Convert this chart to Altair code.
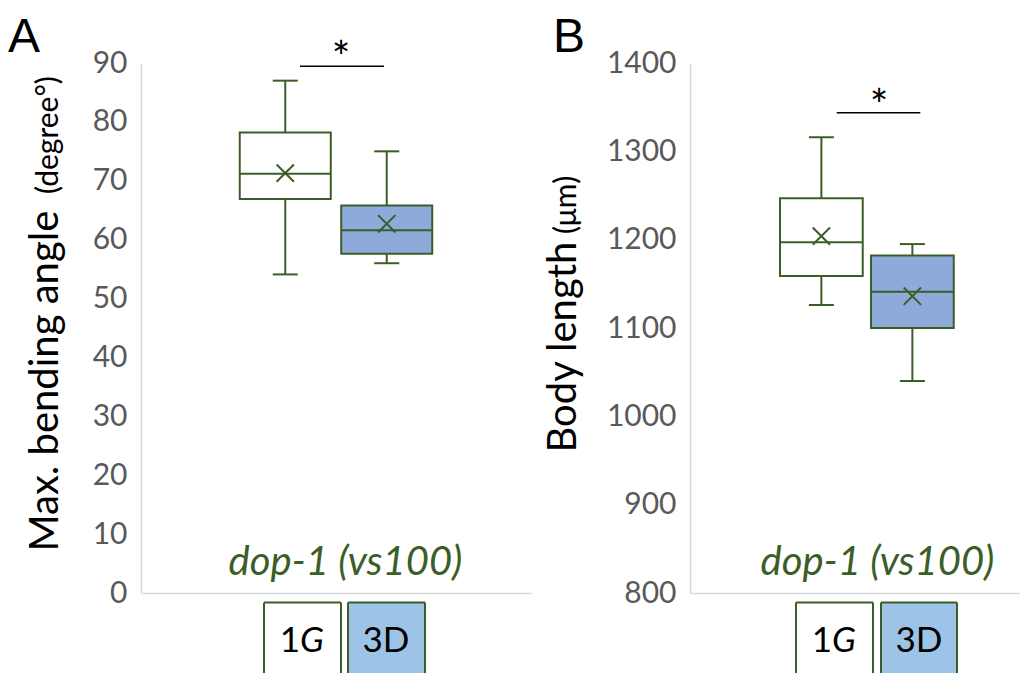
import altair as alt
import pandas as pd

# ---- data ----
groups = ["1G", "3D"]

# Panel A: Max. bending angle (degree)
angle_low = [54.1, 56.0]
angle_q1 = [66.9, 57.6]
angle_median = [71.2, 61.6]
angle_q3 = [78.2, 65.8]
angle_high = [87.0, 75.0]
angle_mean = [71.3, 62.7]
angle_ticks = [0, 10, 20, 30, 40, 50, 60, 70, 80, 90]

# Panel B: Body length (um)
length_low = [1126, 1040]
length_q1 = [1159, 1100]
length_median = [1197, 1141]
length_q3 = [1247, 1182]
length_high = [1316, 1195]
length_mean = [1204, 1136]
length_ticks = [800, 900, 1000, 1100, 1200, 1300, 1400]

GREEN = "#3b5e29"
BOX_FILL = ["#ffffff", "#8eaadb"]
LEG_FILL = ["#ffffff", "#9dc3e6"]
FONT = "Lato"


def frame(low, q1, med, q3, high, mean):
    return pd.DataFrame({"group": groups, "low": low, "q1": q1, "median": med,
                         "q3": q3, "high": high, "mean": mean})


one = pd.DataFrame({"k": [0]})


def txt(text, x, y, size, color="black", angle=0, align="center", italic=False,
        baseline="alphabetic", font=FONT):
    kw = dict(text=text, fontSize=size, color=color, align=align, baseline=baseline, font=font)
    if angle:
        kw["angle"] = angle
    if italic:
        kw["fontStyle"] = "italic"
    return alt.Chart(one).mark_text(**kw).encode(x=alt.value(x), y=alt.value(y))


def hrule(x1, x2, y, color="black", w=1.5):
    return alt.Chart(one).mark_rule(color=color, strokeWidth=w).encode(
        x=alt.value(x1), x2=alt.value(x2), y=alt.value(y))


def vrule(x, y1, y2, color=GREEN, w=2):
    return alt.Chart(one).mark_rule(color=color, strokeWidth=w).encode(
        x=alt.value(x), y=alt.value(y1), y2=alt.value(y2))


def legend_box(x1, x2, top, bottom, fill):
    r = alt.Chart(one).mark_rect(fill=fill).encode(
        x=alt.value(x1), x2=alt.value(x2), y=alt.value(top), y2=alt.value(bottom))
    return [r, hrule(x1, x2, top, GREEN, 2), vrule(x1, top, bottom), vrule(x2, top, bottom)]


def panel(df, ydom, yticks, width, pin, pout, align, cap, ann):
    xenc = alt.X("group:N", scale=alt.Scale(domain=groups, paddingInner=pin, paddingOuter=pout, align=align),
                 axis=alt.Axis(labels=False, ticks=False, title=None, domainColor="#d9d9d9", domainWidth=1.5))
    yscale = alt.Scale(domain=ydom, nice=False, zero=False)
    yaxis = alt.Axis(values=yticks, title=None, grid=False, ticks=False, labelFontSize=30, format="d",
                     labelColor="#595959", labelPadding=14, labelFont=FONT,
                     domainColor="#d9d9d9", domainWidth=1.5)
    base = alt.Chart(df)
    whisk_lo = base.mark_rule(color=GREEN, strokeWidth=2).encode(
        x=xenc, y=alt.Y("low:Q", scale=yscale, axis=yaxis), y2="q1:Q")
    whisk_hi = base.mark_rule(color=GREEN, strokeWidth=2).encode(x=xenc, y=alt.Y("q3:Q"), y2="high:Q")
    cap_lo = base.mark_tick(color=GREEN, size=cap, thickness=2, opacity=1).encode(x=xenc, y="low:Q")
    cap_hi = base.mark_tick(color=GREEN, size=cap, thickness=2, opacity=1).encode(x=xenc, y="high:Q")
    box = base.mark_bar(stroke=GREEN, strokeWidth=2, opacity=1).encode(
        x=xenc, y="q1:Q", y2="q3:Q",
        fill=alt.Fill("group:N", scale=alt.Scale(domain=groups, range=BOX_FILL), legend=None))
    med = base.mark_bar(stroke=GREEN, strokeWidth=2, fill=GREEN).encode(x=xenc, y="median:Q", y2="median:Q")
    mean = base.mark_point(shape="M-1,-1L1,1M-1,1L1,-1", size=300, filled=False, stroke=GREEN,
                           strokeWidth=2, opacity=1).encode(x=xenc, y="mean:Q")

    layers = [whisk_lo, whisk_hi, cap_lo, cap_hi, box, med, mean]
    # annotations
    layers.append(txt(ann["letter"], ann["letter_x"], -11.5, 48, align="left", font="Liberation Sans"))
    layers.append(txt(ann["title"], ann["title_x"], ann["title_y"], 40, angle=270, align="left"))
    layers.append(txt(ann["paren"], ann["title_x"], ann["paren_y"], 30, angle=270, align="left"))
    layers.append(hrule(ann["sig_x1"], ann["sig_x2"], ann["sig_y"]))
    layers.append(txt("*", ann["star_x"], ann["star_y"], 44))
    layers.append(txt("dop-1 (vs100)", ann["dop_x"], 511.5, 40, color=GREEN, italic=True))
    lx = ann["leg_x"]
    layers += legend_box(lx[0], lx[1], 539.5, 620, LEG_FILL[0])
    layers += legend_box(lx[2], lx[3], 539.5, 620, LEG_FILL[1])
    layers.append(txt("1", ann["one_x"], 588.5, 35, align="right"))
    layers.append(txt("G", ann["one_x"], 588.5, 35, align="left", italic=True))
    layers.append(txt("3D", ann["three_x"], 588.5, 35))
    return alt.layer(*layers).properties(width=width, height=530)


pA = panel(frame(angle_low, angle_q1, angle_median, angle_q3, angle_high, angle_mean),
           [0, 90], angle_ticks, 390, 0.103, 0.973, 0.5, 25,
           dict(letter="A", letter_x=-133, title="Max. bending angle", paren="(degree°)",
                title_x=-83, title_y=488.5, paren_y=131,
                sig_x1=159, sig_x2=243, sig_y=3.2, star_x=200, star_y=9.5,
                dop_x=204.5, leg_x=[123, 200, 207, 284], one_x=159, three_x=245))
pB = panel(frame(length_low, length_q1, length_median, length_q3, length_high, length_mean),
           [800, 1400], length_ticks, 330, 0.091, 0.8587, 0.576, 25,
           dict(letter="B", letter_x=-137, title="Body length", paren="(μm)",
                title_x=-114, title_y=389.5, paren_y=171,
                sig_x1=146.7, sig_x2=230.3, sig_y=49.8, star_x=189, star_y=57.5,
                dop_x=187.5, leg_x=[106, 183, 191, 267], one_x=142, three_x=229))

chart = alt.hconcat(pA, pB, spacing=159, bounds="flush").configure_view(stroke=None).properties(
    padding={"left": 0, "top": 5, "right": 0, "bottom": 0})

chart.save("out.html", embed_options={"renderer": "svg", "actions": False})
